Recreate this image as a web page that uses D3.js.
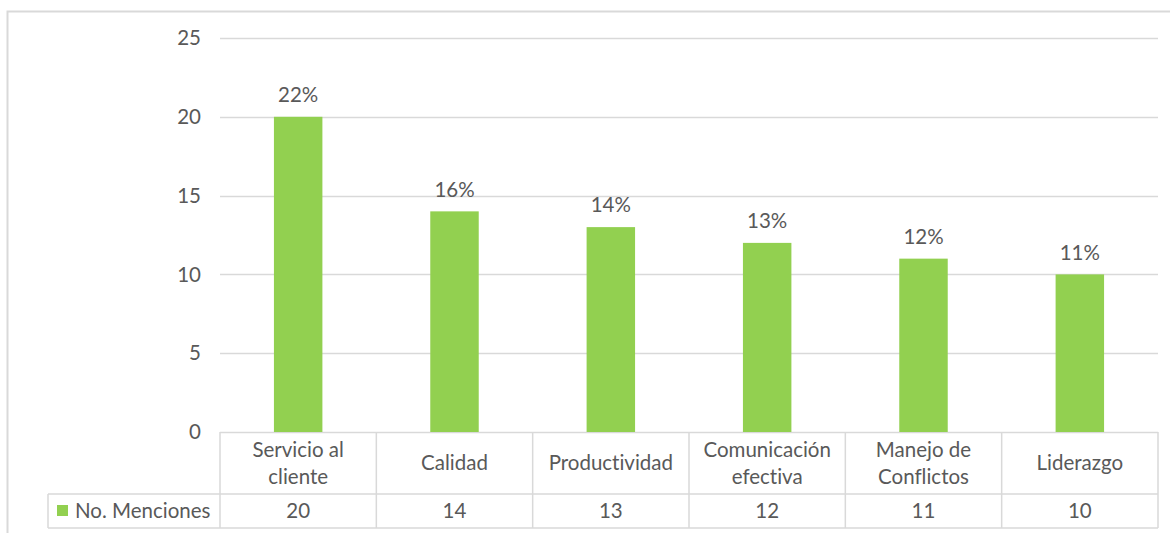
<!DOCTYPE html>
<html>
<head>
<meta charset="utf-8">
<script src="https://cdn.jsdelivr.net/npm/d3@7"></script>
<style>
  html, body { margin: 0; padding: 0; background: #fff; }
  svg { display: block; font-family: Lato, "Open Sans", sans-serif; font-variant-ligatures: none; font-feature-settings: "liga" 0, "clig" 0; }
</style>
</head>
<body>
<svg id="chart" width="1170" height="533"></svg>
<script>
// Competencias mencionadas
const categories = [["Servicio al", "cliente"], ["Calidad"], ["Productividad"], ["Comunicación", "efectiva"], ["Manejo de", "Conflictos"], ["Liderazgo"]];
const menciones = [20, 14, 13, 12, 11, 10];
const percentLabels = ["22%", "16%", "14%", "13%", "12%", "11%"];
const yTicks = [0, 5, 10, 15, 20, 25];
const seriesName = "No. Menciones";

const barColor = "#92d050";
const gridColor = "#d9d9d9";
const textColor = "#595959";
const fontSize = 20.5;

const svg = d3.select("#chart");

const plot = { left: 220, right: 1158, top: 38, bottom: 432 };
const rowCat = { top: 432, bottom: 494 };
const rowVal = { top: 494, bottom: 528 };
const legendLeft = 48;

// outer frame
svg.append("path")
  .attr("d", `M7.5,533 V11.5 H1170`)
  .attr("fill", "none").attr("stroke", gridColor).attr("stroke-width", 2);

const x = d3.scaleBand().domain(d3.range(categories.length)).range([plot.left, plot.right]).paddingInner(0).paddingOuter(0);
const y = d3.scaleLinear().domain([0, 25]).range([plot.bottom, plot.top]);

// gridlines
svg.append("g").selectAll("line").data(yTicks).join("line")
  .attr("x1", plot.left).attr("x2", plot.right)
  .attr("y1", d => Math.round(y(d)) + 0.5).attr("y2", d => Math.round(y(d)) + 0.5)
  .attr("stroke", gridColor).attr("stroke-width", 1.5);

// y axis labels
svg.append("g").selectAll("text").data(yTicks).join("text")
  .attr("x", 201).attr("y", d => y(d))
  .attr("dy", "0.35em").attr("text-anchor", "end")
  .attr("fill", textColor).attr("font-size", fontSize)
  .text(d => d);

// bars
const bw = x.bandwidth() * 0.31;
svg.append("g").selectAll("rect").data(menciones).join("rect")
  .attr("x", (d, i) => x(i) + (x.bandwidth() - bw) / 2)
  .attr("width", bw)
  .attr("y", d => y(d))
  .attr("height", d => y(0) - y(d))
  .attr("fill", barColor);

// data labels
svg.append("g").selectAll("text").data(menciones).join("text")
  .attr("x", (d, i) => x(i) + x.bandwidth() / 2)
  .attr("y", d => y(d) - 22)
  .attr("dy", "0.35em").attr("text-anchor", "middle")
  .attr("fill", textColor).attr("font-size", fontSize)
  .text((d, i) => percentLabels[i]);

// data table grid
const tbl = svg.append("g").attr("stroke", gridColor).attr("stroke-width", 1.5).attr("fill", "none");
tbl.append("line").attr("x1", legendLeft).attr("x2", plot.right).attr("y1", rowVal.top).attr("y2", rowVal.top);
tbl.append("line").attr("x1", legendLeft).attr("x2", plot.right).attr("y1", rowVal.bottom).attr("y2", rowVal.bottom);
tbl.append("line").attr("x1", legendLeft).attr("x2", legendLeft).attr("y1", rowVal.top).attr("y2", rowVal.bottom);
const colEdges = d3.range(categories.length + 1).map(i => i < categories.length ? x(i) : plot.right);
tbl.selectAll("line.col").data(colEdges).join("line").attr("class", "col")
  .attr("x1", d => d).attr("x2", d => d)
  .attr("y1", rowCat.top).attr("y2", rowVal.bottom);

// category labels
const catG = svg.append("g").attr("fill", textColor).attr("font-size", fontSize).attr("text-anchor", "middle");
categories.forEach((lines, i) => {
  const cx = x(i) + x.bandwidth() / 2;
  const cy = (rowCat.top + rowCat.bottom) / 2;
  const lh = 27;
  lines.forEach((t, j) => {
    catG.append("text")
      .attr("x", cx)
      .attr("y", cy + (j - (lines.length - 1) / 2) * lh)
      .attr("dy", "0.35em")
      .text(t);
  });
});

// value row
svg.append("g").selectAll("text").data(menciones).join("text")
  .attr("x", (d, i) => x(i) + x.bandwidth() / 2)
  .attr("y", (rowVal.top + rowVal.bottom) / 2)
  .attr("dy", "0.35em").attr("text-anchor", "middle")
  .attr("fill", textColor).attr("font-size", fontSize)
  .text(d => d);

// legend key in table
svg.append("rect")
  .attr("x", 57).attr("y", 505).attr("width", 11).attr("height", 11)
  .attr("fill", barColor);
svg.append("text")
  .attr("x", 75).attr("y", (rowVal.top + rowVal.bottom) / 2)
  .attr("dy", "0.35em").attr("fill", textColor).attr("font-size", fontSize)
  .text(seriesName);
</script>
</body>
</html>
